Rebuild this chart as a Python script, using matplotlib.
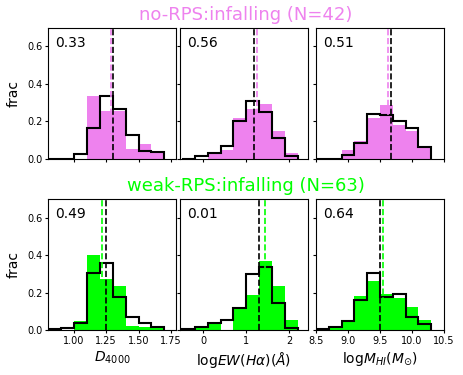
import numpy as np
import matplotlib.pyplot as plt

# bin edges for each column
edges_d4000 = np.round(np.arange(0.8, 1.75, 0.1), 2)
edges_ew = np.round(np.arange(-0.5, 2.25, 0.3), 2)
edges_mhi = np.round(np.arange(8.5, 10.35, 0.2), 2)

# no-RPS:infalling (top row) - filled = sample, step = control
top_fill_d4000 = [0, 0, 0, 0.333, 0.252, 0.252, 0.052, 0.076, 0.036]
top_step_d4000 = [0, 0, 0.024, 0.164, 0.335, 0.267, 0.125, 0.041, 0.036]
top_fill_ew = [0, 0, 0.024, 0.048, 0.217, 0.265, 0.290, 0.146, 0.027]
top_step_ew = [0, 0.012, 0.030, 0.069, 0.201, 0.308, 0.249, 0.110, 0.012]
top_fill_mhi = [0, 0, 0.048, 0.094, 0.219, 0.288, 0.178, 0.148, 0.055]
top_step_mhi = [0, 0, 0.018, 0.085, 0.237, 0.231, 0.199, 0.164, 0.059]

# weak-RPS:infalling (bottom row)
bot_fill_d4000 = [0, 0, 0.050, 0.403, 0.270, 0.236, 0.021, 0.016, 0.010]
bot_step_d4000 = [0.004, 0.009, 0.036, 0.307, 0.357, 0.178, 0.071, 0.039, 0.018]
bot_fill_ew = [0, 0.016, 0.032, 0, 0.115, 0.187, 0.368, 0.236, 0.053]
bot_step_ew = [0.004, 0.014, 0.036, 0.053, 0.119, 0.297, 0.337, 0.146, 0.012]
bot_fill_mhi = [0, 0.010, 0.053, 0.181, 0.263, 0.195, 0.169, 0.121, 0.053]
bot_step_mhi = [0.004, 0.014, 0.048, 0.160, 0.302, 0.178, 0.192, 0.071, 0.030]

# medians (dashed lines): [sample, control]
top_med = [(1.289, 1.302), (1.24, 1.18), (9.63, 9.667)]
bot_med = [(1.219, 1.247), (1.435, 1.30), (9.55, 9.50)]

top_pvals = ["0.33", "0.56", "0.51"]
bot_pvals = ["0.49", "0.01", "0.64"]

xlabels = [r"$D_{4000}$", r"log$EW(H\alpha)(\AA)$", r"log$M_{HI}(M_{\odot})$"]
xlims = [(0.8, 1.79), (-0.54, 2.43), (8.5, 10.5)]
xticks = [[1.0, 1.25, 1.5, 1.75], [0, 1, 2], [8.5, 9.0, 9.5, 10.0, 10.5]]
xticklabels = [["1.00", "1.25", "1.50", "1.75"], ["0", "1", "2"],
               ["8.5", "9.0", "9.5", "10.0", "10.5"]]

edges = [edges_d4000, edges_ew, edges_mhi]
rows = [
    dict(fill=[top_fill_d4000, top_fill_ew, top_fill_mhi],
         step=[top_step_d4000, top_step_ew, top_step_mhi],
         med=top_med, pv=top_pvals, color="violet",
         title="no-RPS:infalling (N=42)"),
    dict(fill=[bot_fill_d4000, bot_fill_ew, bot_fill_mhi],
         step=[bot_step_d4000, bot_step_ew, bot_step_mhi],
         med=bot_med, pv=bot_pvals, color="lime",
         title="weak-RPS:infalling (N=63)"),
]

W, H = 463, 375
fig = plt.figure(figsize=(W / 100, H / 100), dpi=100)

lefts = [48, 180, 316]
width = 128
tops = [27.5, 199]
height = 131

for r, row in enumerate(rows):
    for c in range(3):
        ax = fig.add_axes([lefts[c] / W, 1 - (tops[r] + height) / H, width / W, height / H])
        ax.stairs(row["fill"][c], edges[c], fill=True, color=row["color"], linewidth=0)
        ax.stairs(row["step"][c], edges[c], color="black", linewidth=1.5)
        ax.axvline(row["med"][c][0], color=row["color"], ls="--", lw=1.2)
        ax.axvline(row["med"][c][1], color="black", ls="--", lw=1.2)
        ax.set_xlim(xlims[c])
        ax.set_ylim(0, 0.7)
        ax.set_xticks(xticks[c])
        ax.set_yticks([0, 0.2, 0.4, 0.6])
        ax.tick_params(labelsize=7, length=2, width=0.8, pad=2)
        ax.text(0.055, 0.885, row["pv"][c], transform=ax.transAxes,
                fontsize=10, va="center", ha="left")
        if c == 0:
            ax.set_ylabel("frac", fontsize=10, labelpad=5)
        else:
            ax.set_yticklabels([])
        if r == 1:
            ax.set_xticklabels(xticklabels[c])
            ax.set_xlabel(xlabels[c], fontsize=10, labelpad=3)
        else:
            ax.set_xticklabels([])
    fig.text(246 / W, 1 - (15 if r == 0 else 186) / H, row["title"],
             color=row["color"], fontsize=13, ha="center", va="center")

fig.savefig("out.png", dpi=100)
